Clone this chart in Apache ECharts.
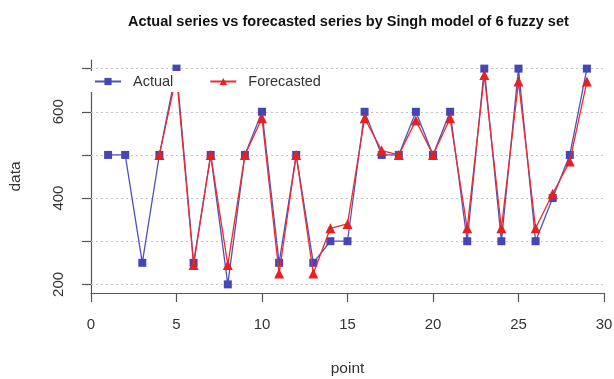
<!DOCTYPE html>
<html>
<head>
<meta charset="utf-8">
<script src="https://cdn.jsdelivr.net/npm/echarts@6/dist/echarts.min.js"></script>
<style>
html,body{margin:0;padding:0;background:#fff;}
#chart{width:614px;height:379px;}
</style>
</head>
<body>
<div id="chart"></div>
<script>
var points = [1,2,3,4,5,6,7,8,9,10,11,12,13,14,15,16,17,18,19,20,21,22,23,24,25,26,27,28,29];
var actual = [500,500,250,500,700,250,500,200,500,600,250,500,250,300,300,600,500,500,600,500,600,300,700,300,700,300,400,500,700];
var forecasted = [null,null,null,500,685,245,500,245,500,585,225,500,225,330,340,585,510,500,580,500,585,330,685,330,670,330,410,485,670];
var xTicks = [0,5,10,15,20,25,30];
var yTicks = [200,300,400,500,600,700];
var yLabels = [200,400,600];
var gridValues = [200,300,400,500,600,700];

var FONT = 'Liberation Sans, Arial, sans-serif';
var chart = echarts.init(document.getElementById('chart'), null, {renderer:'canvas'});
function pairs(vals){ return points.map(function(p,i){ return vals[i]==null ? null : [p, vals[i]]; }).filter(function(d){return d;}); }

chart.setOption({
  animation:false,
  backgroundColor:'#fff',
  textStyle:{fontFamily:FONT},
  title:{
    text:'Actual series vs forecasted series by Singh model of 6 fuzzy set',
    left:123, top:9,
    textStyle:{fontFamily:FONT, fontSize:14.5, fontWeight:'bold', color:'#111'}
  },
  legend:{
    left:88, top:71, padding:[3,6,3,6],
    backgroundColor:'#fff',
    itemWidth:26, itemHeight:9, itemGap:36,
    textStyle:{fontFamily:FONT, fontSize:14.5, color:'#333', padding:[0,0,0,7]},
    data:['Actual','Forecasted'],
    z:10
  },
  grid:{left:91, right:10, top:60, bottom:86, containLabel:false, outerBoundsMode:'none'},
  xAxis:{
    type:'value', min:0, max:30, interval:5,
    name:'point', nameLocation:'middle', nameGap:68,
    nameTextStyle:{fontFamily:FONT, fontSize:15.5, color:'#333'},
    axisLine:{show:true, lineStyle:{color:'#555', width:1.2}},
    axisTick:{show:true, length:9, lineStyle:{color:'#555', width:1.2}, customValues:xTicks},
    axisLabel:{margin:24, fontSize:15, color:'#333', fontFamily:FONT, customValues:xTicks},
    splitLine:{show:false}
  },
  yAxis:{
    type:'value', min:180, max:720,
    name:'data', nameLocation:'middle', nameGap:67, nameRotate:90,
    nameTextStyle:{fontFamily:FONT, fontSize:15.5, color:'#333'},
    axisLine:{show:true, lineStyle:{color:'#555', width:1.2}},
    axisTick:{show:true, length:9, lineStyle:{color:'#555', width:1.2}, customValues:yTicks},
    axisLabel:{margin:25, fontSize:15, color:'#333', fontFamily:FONT, rotate:90, customValues:yLabels},
    splitLine:{show:false}
  },
  series:[
    {
      name:'Actual', type:'line', data:pairs(actual),
      symbol:'rect', symbolSize:8,
      lineStyle:{color:'#5050c0', width:1.3},
      itemStyle:{color:'#4545b5'},
      z:2,
      markLine:{
        silent:true, symbol:'none', label:{show:false},
        lineStyle:{color:'#c4c4c4', type:[2,3], width:1},
        data:gridValues.map(function(v){return {yAxis:v};}),
        z:1
      }
    },
    {
      name:'Forecasted', type:'line', data:pairs(forecasted),
      symbol:'triangle', symbolSize:10,
      lineStyle:{color:'#ee2a2a', width:1.3},
      itemStyle:{color:'#e82020'},
      z:3
    }
  ]
});
</script>
</body>
</html>
